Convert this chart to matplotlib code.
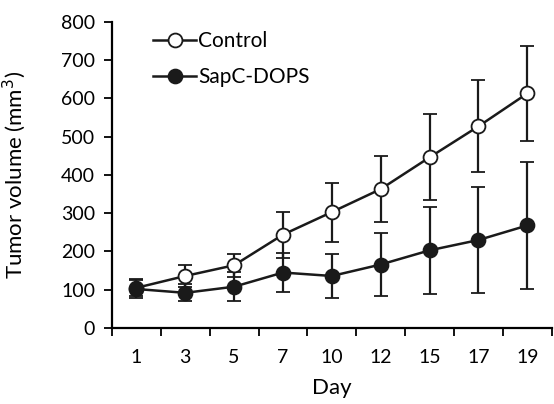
import numpy as np
import matplotlib.pyplot as plt
from matplotlib.lines import Line2D
from matplotlib.ticker import FixedLocator

plt.rcParams["font.family"] = ["Lato", "DejaVu Sans"]

days = ["1", "3", "5", "7", "10", "12", "15", "17", "19"]
control = [105, 136, 164, 244, 303, 363, 446, 527, 613]
control_err = [22, 28, 30, 60, 77, 86, 112, 120, 124]
sapc = [102, 92, 108, 145, 136, 166, 203, 230, 268]
sapc_err = [24, 22, 38, 50, 57, 83, 113, 138, 167]

fig = plt.figure(figsize=(5.54, 4.04), dpi=100)
ax = fig.add_axes([0.202, 0.188, 0.794, 0.758])

x = np.arange(len(days))
style = dict(color="#1a1a1a", lw=1.8, elinewidth=1.6, capsize=5, capthick=1.6,
             marker="o", ms=10, mec="#1a1a1a", mew=1.3, zorder=3)
ax.errorbar(x, control, yerr=control_err, mfc="white", **style)
ax.errorbar(x, sapc, yerr=sapc_err, mfc="#1a1a1a", **style)

ax.set_xlim(-0.5, len(days) - 0.5)
ax.set_ylim(0, 800)
ax.set_yticks(range(0, 801, 100))
ax.set_xticks(x)
ax.set_xticklabels(days)
ax.tick_params(axis="x", which="major", length=0, pad=15, labelsize=14)
ax.xaxis.set_minor_locator(FixedLocator(np.arange(-0.5, len(days), 1.0)))
ax.tick_params(axis="x", which="minor", length=6, width=1.3, direction="out")
ax.tick_params(axis="y", length=6, width=1.3, direction="out", labelsize=14, pad=6)

for s in ["top", "right"]:
    ax.spines[s].set_visible(False)
for s in ["left", "bottom"]:
    ax.spines[s].set_linewidth(1.6)

ax.set_xlabel("Day", fontsize=16, labelpad=9)
ax.set_ylabel("Tumor volume (mm$^3$)", fontsize=16)
ax.yaxis.set_label_coords(-0.19, 0.5)

handles = [
    Line2D([], [], color="#1a1a1a", lw=1.8, marker="o", ms=10, mfc="white", mec="#1a1a1a", mew=1.3),
    Line2D([], [], color="#1a1a1a", lw=1.8, marker="o", ms=10, mfc="#1a1a1a", mec="#1a1a1a", mew=1.3),
]
ax.legend(handles, ["Control", "SapC-DOPS"], loc="upper left", bbox_to_anchor=(0.05, 1.03),
          frameon=False, fontsize=15, handlelength=2.1, handletextpad=0.1, labelspacing=0.75)

fig.savefig("out.png", dpi=100)
